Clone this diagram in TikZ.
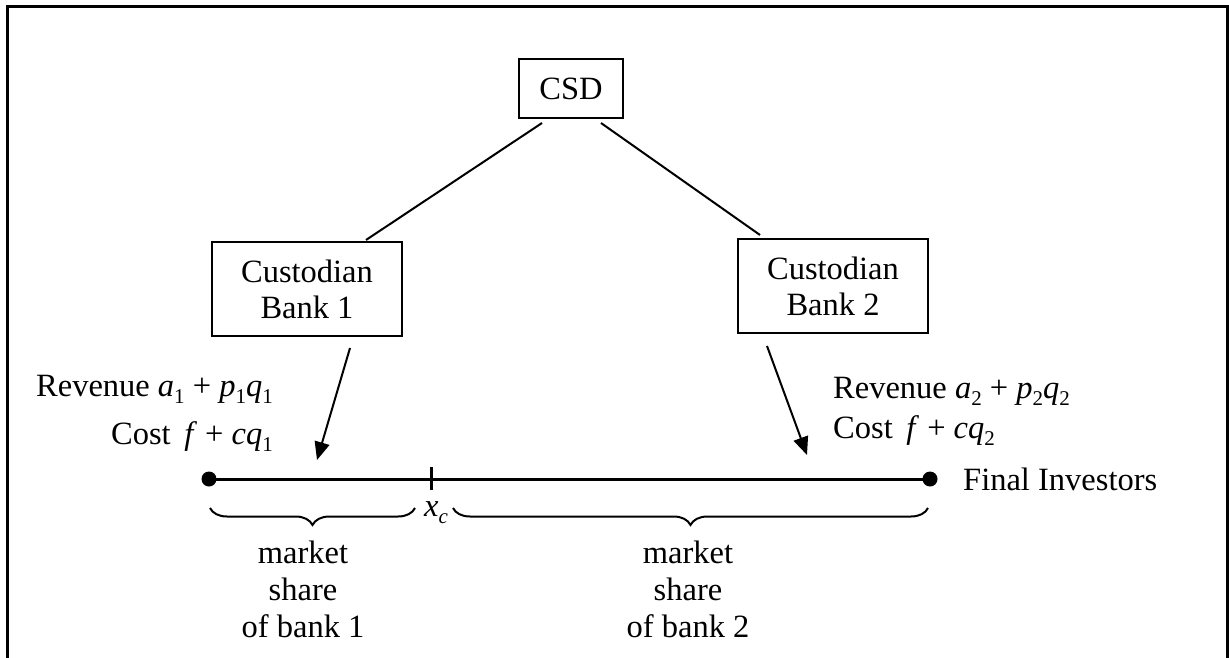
\documentclass[tikz,border=0pt]{standalone}
\usepackage{fontspec}
\setmainfont{Liberation Serif}
\usetikzlibrary{arrows.meta,decorations.pathreplacing}
\newcommand{\lowsub}[1]{\raisebox{-0.22em}{\fontsize{21}{21}\selectfont #1}}
\begin{document}
\begin{tikzpicture}[x=1pt,y=-1pt,
  every node/.style={font=\fontsize{32.5}{36}\selectfont},
  box/.style={draw,line width=2pt,inner sep=0pt,align=center},
  conn/.style={line width=2pt},
  arr/.style={line width=2pt,-{Triangle[length=18pt,width=15pt]}},
  dot/.style={circle,fill,inner sep=0pt,minimum size=15pt},
  brc/.style={decorate,decoration={brace,mirror,amplitude=17pt},line width=2pt},
  lbl/.style={inner sep=0pt}]
\useasboundingbox (0,0) rectangle (1229,658);
% frame
\draw[line width=3pt] (7,658) -- (7,7) -- (1227,7) -- (1227,658);
% boxes
\node[box,minimum width=104pt,minimum height=59pt] (csd) at (571,88.5) {CSD};
\node[box,minimum width=190pt,minimum height=94pt] (b1) at (307,289) {Custodian\\Bank 1};
\node[box,minimum width=190pt,minimum height=94pt] (b2) at (833,286) {Custodian\\Bank 2};
% connectors from CSD
\coordinate (c1s) at (542,123); \coordinate (c1e) at (366,240);
\coordinate (c2s) at (601,123); \coordinate (c2e) at (760,235);
\draw[conn] (c1s) -- (c1e);
\draw[conn] (c2s) -- (c2e);
% arrows
\coordinate (a1s) at (350,348); \coordinate (a1e) at (317,460);
\coordinate (a2s) at (767,346); \coordinate (a2e) at (807,455);
\draw[arr] (a1s) -- (a1e);
\draw[arr] (a2s) -- (a2e);
% line
\node[dot] (L) at (209,479) {};
\node[dot] (R) at (930,479) {};
\draw[line width=3pt] (L.center) -- (R.center);
\coordinate (tt) at (431,467); \coordinate (tb) at (431,490);
\draw[line width=3pt] (tt) -- (tb);
\node[lbl,anchor=base west] (fi) at (963,490) {Final Investors};
% labels
\node[lbl,anchor=base east] (rev1) at (273,396) {Revenue \textit{a}\lowsub{1} + \textit{p}\lowsub{1}\textit{q}\lowsub{1}};
\node[lbl,anchor=base east] (cost1) at (273,444) {Cost\, \textit{f} + \textit{cq}\lowsub{1}};
\node[lbl,anchor=base west] (rev2) at (833,398) {Revenue \textit{a}\lowsub{2} + \textit{p}\lowsub{2}\textit{q}\lowsub{2}};
\node[lbl,anchor=base west] (cost2) at (833,438) {Cost\, \textit{f} + \textit{cq}\lowsub{2}};
% braces
\coordinate (br1s) at (210,508); \coordinate (br1e) at (415,508);
\coordinate (br2s) at (453,508); \coordinate (br2e) at (928,508);
\draw[brc] (br1s) -- (br1e);
\draw[brc] (br2s) -- (br2e);
\node[lbl] (xc) at (436,513) {\textit{x}\lowsub{\textit{c}}};
\node[lbl,align=center,font=\fontsize{32.5}{37}\selectfont] (ms1) at (303,589) {market\\share\\of bank 1};
\node[lbl,align=center,font=\fontsize{32.5}{37}\selectfont] (ms2) at (688,589) {market\\share\\of bank 2};
\end{tikzpicture}
\end{document}
